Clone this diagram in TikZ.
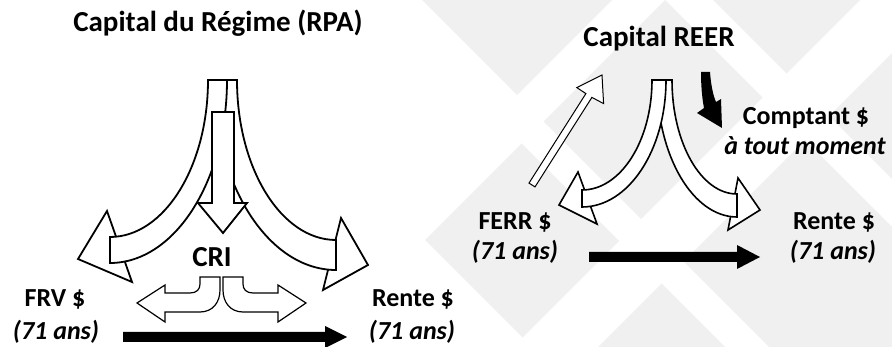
\documentclass[tikz,border=0pt]{standalone}
\usepackage{fontspec}
\setmainfont{Carlito}
\definecolor{tile}{RGB}{240,240,240}
\begin{document}
\begin{tikzpicture}[x=1pt,y=-1pt,
  lbl/.style={inner sep=0pt, anchor=base, font=\fontsize{26}{30}\selectfont\bfseries},
  ttl/.style={inner sep=0pt, anchor=base, font=\fontsize{29}{34}\selectfont\bfseries},
  sub/.style={inner sep=0pt, anchor=base, font=\fontsize{26}{30}\selectfont\bfseries\itshape},
  bigarrow/.style={draw=black, fill=white, line width=1.8pt, line join=miter},
  midarrow/.style={draw=black, fill=white, line width=1.6pt, line join=miter},
  thinarrow/.style={draw=black, fill=white, line width=1.2pt, line join=miter},
  solidarrow/.style={fill=black}]
\useasboundingbox (0,0) rectangle (892,347);
\fill[white] (0,0) rectangle (892,347);

% decorative diamond tiles
\begin{scope}
  \clip (0,0) rectangle (892,347);
  \fill[tile] (422,0) -- (543.5,-121.5) -- (638.5,-26.5) -- (517,95) -- cycle;
  \fill[tile] (425,240) -- (521.5,143.5) -- (619,241) -- (522.5,337.5) -- cycle;
  \fill[tile] (543.5,121.5) -- (665,0) -- (762.5,97.5) -- (641,219) -- cycle;
  \fill[tile] (689,-24) -- (832.5,-167.5) -- (930,-70) -- (786.5,73.5) -- cycle;
  \fill[tile] (565,380) -- (661.5,283.5) -- (889,511) -- (792.5,607.5) -- cycle;
  \fill[tile] (683.5,261.5) -- (805,140) -- (1032.5,367.5) -- (911,489) -- cycle;
  \fill[tile] (829,116) -- (972.5,-27.5) -- (1200,200) -- (1056.5,343.5) -- cycle;
\end{scope}

% ---------- left diagram: pension plan capital ----------
\node[ttl] (rpa) at (218,32) {Capital du Régime (RPA)};
\node[ttl] (cri) at (212,267) {CRI};
\node[lbl] (frv) at (55,307) {FRV \$};
\node[sub] (frvage) at (56,340) {(71 ans)};
\node[lbl] (renteA) at (413,307) {Rente \$};
\node[sub] (renteAage) at (412,340) {(71 ans)};

% right branch (head, then shaft)
\draw[bigarrow] (341,218) -- (368,265) -- (323,290) -- cycle;
\draw[bigarrow] (237,80) .. controls (237,168.4) and (281.3,240) .. (336,240)
  -- (336,270) .. controls (268.6,270) and (214,184.9) .. (214,80) -- cycle;
% left branch
\draw[bigarrow] (107,211) -- (78,259) -- (132,282) -- cycle;
\draw[bigarrow] (208,80) .. controls (208,166.7) and (164.1,237) .. (110,237)
  -- (110,263) .. controls (174.6,263) and (227,181.1) .. (227,80) -- cycle;
% middle branch
\draw[bigarrow] (212,112) -- (234,112) -- (234,203) -- (247,203) -- (223,233)
  -- (198,203) -- (212,203) -- cycle;

% CRI split arrows
\draw[thinarrow] (200,277) -- (200,284) .. controls (200,289) and (197,293) .. (190,293)
  -- (165,293) -- (165,285) -- (137,303) -- (165,322) -- (165,312) -- (200,312)
  .. controls (213,312) and (220,302) .. (220,290) -- (220,277) -- cycle;
\draw[thinarrow] (243,277) -- (243,284) .. controls (243,289) and (246,293) .. (253,293)
  -- (278,293) -- (278,285) -- (306,303) -- (278,322) -- (278,312) -- (243,312)
  .. controls (230,312) and (223,302) .. (223,290) -- (223,277) -- cycle;

% FRV to Rente
\fill[solidarrow] (123,332) -- (325,332) -- (325,326) -- (347,337) -- (325,348)
  -- (325,342) -- (123,342) -- cycle;

% ---------- right diagram: RRSP capital ----------
\node[ttl] (reer) at (659,47) {Capital REER};
\node[lbl] (cash) at (806,125) {Comptant \$};
\node[sub] (cashwhen) at (805,155) {à tout moment};
\node[lbl] (ferr) at (515,230) {FERR \$};
\node[sub] (ferrage) at (515,260) {(71 ans)};
\node[lbl] (renteB) at (834,230) {Rente \$};
\node[sub] (renteBage) at (833,260) {(71 ans)};

% right branch
\draw[midarrow] (738,178) -- (760,210) -- (728,230) -- cycle;
\draw[midarrow] (672,80) .. controls (672,143) and (701.1,194) .. (737,194)
  -- (737,217) .. controls (692.8,217) and (657,155.7) .. (657,80) -- cycle;
% left branch
\draw[midarrow] (578,172) -- (559,205) -- (597,224) -- cycle;
\draw[midarrow] (652,80) .. controls (652,140.8) and (620.7,190) .. (582,190)
  -- (582,207) .. controls (628.4,207) and (666,150.1) .. (666,80) -- cycle;

% FERR back to capital
\draw[draw=black, fill=white, line width=1pt, line join=miter]
  (529.0,183.1) -- (585.9,93.6) -- (576.8,87.6) -- (602,75) -- (603.6,103.6)
  -- (591.9,97.4) -- (535.0,186.9) -- cycle;

% cash withdrawal
\fill[solidarrow] (701,72) -- (710,72) .. controls (711,85) and (713,95) .. (716,102)
  -- (721,99) -- (722,128) -- (697,113) -- (704,108)
  .. controls (702,98) and (701,85) .. (701,72) -- cycle;

% FERR to Rente
\fill[solidarrow] (589,252) -- (737,252) -- (737,245) -- (760,257) -- (737,269)
  -- (737,262) -- (589,262) -- cycle;
\end{tikzpicture}
\end{document}
